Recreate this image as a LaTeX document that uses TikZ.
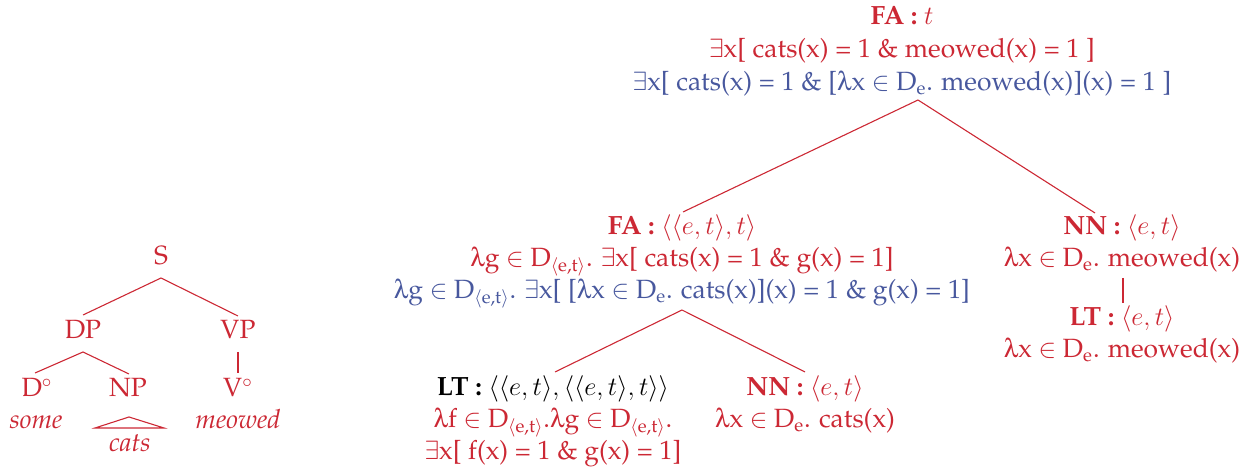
\RequirePackage{fix-cm}
\documentclass[tikz,border=0pt]{standalone}
\usepackage[T1]{fontenc}
\renewcommand{\rmdefault}{ppl}
\usepackage[Symbol]{upgreek}
\usetikzlibrary{calc}
\definecolor{tred}{RGB}{204,40,52}
\definecolor{tblue}{RGB}{72,88,158}
\newcommand{\lam}{\ensuremath{\uplambda}}
\newcommand{\Det}{D\textsubscript{$\langle$e,t$\rangle$}}
\newcommand{\De}{D\textsubscript{e}}
\newcommand{\blk}[1]{\begin{tabular}[t]{@{}c@{}}#1\end{tabular}}
\begin{document}
\begin{tikzpicture}[x=0.5pt,y=-0.5pt,
  every node/.style={inner sep=0pt, outer sep=0pt, anchor=base, text=tred,
    font=\fontsize{13.2}{16}\selectfont},
  ln/.style={draw=tred, line width=0.55pt}]
\useasboundingbox (0,0) rectangle (1250,469);
% left syntactic tree
\node (S) at (161,265) {S};
\node (DP) at (83,339) {DP};
\node (VP) at (238,339) {VP};
\node (Do) at (37,397) {D$^\circ$};
\node (NP) at (128,397) {NP};
\node (Vo) at (238,397) {V$^\circ$};
\node (some) at (36,429) {\textit{some}};
\node (cats) at (130,452) {\textit{cats}};
\node (meowed) at (238,429) {\textit{meowed}};
\draw[ln] ($(S.base)+(0,13)$) -- ($(DP.base)+(0,-24)$);
\draw[ln] ($(S.base)+(0,13)$) -- ($(VP.base)+(0,-23)$);
\draw[ln] ($(DP.base)+(0,13)$) -- ($(Do.base)+(-2,-24)$);
\draw[ln] ($(DP.base)+(0,13)$) -- ($(NP.base)+(1,-23)$);
\draw[ln] ($(VP.base)+(0,13)$) -- ($(Vo.base)+(0,-24)$);
\draw[ln] ($(NP.base)+(1,20)$) -- ($(NP.base)+(-33,31)$) -- ($(NP.base)+(36,31)$) -- cycle;
% semantic tree
\node (top) at (902,25) {\blk{\textbf{FA :} $t$\\[0.5pt]
  $\exists$x[ cats(x) = 1 \& meowed(x) = 1 ]\\[0.5pt]
  \color{tblue}$\exists$x[ cats(x) = 1 \& [\lam x $\in$ \De. meowed(x)](x) = 1 ]}};
\node (fa) at (682,235) {\blk{\textbf{FA :} $\langle\langle e,t\rangle,t\rangle$\\
  \lam g $\in$ \Det. $\exists$x[ cats(x) = 1 \& g(x) = 1]\\
  \color{tblue}\lam g $\in$ \Det. $\exists$x[ [\lam x $\in$ \De. cats(x)](x) = 1 \& g(x) = 1]}};
\node (nnr) at (1122,235) {\blk{\textbf{NN :} $\langle e,t\rangle$\\
  \lam x $\in$ \De. meowed(x)}};
\node (ltr) at (1122,326) {\blk{\textbf{LT :} $\langle e,t\rangle$\\
  \lam x $\in$ \De. meowed(x)}};
\node (lt) at (553,396) {\blk{\color{black}\textbf{LT :} $\langle\langle e,t\rangle,\langle\langle e,t\rangle,t\rangle\rangle$\\
  \lam f $\in$ \Det.\lam g $\in$ \Det.\\
  $\exists$x[ f(x) = 1 \& g(x) = 1]}};
\node (nnb) at (805,396) {\blk{\textbf{NN :} $\langle e,t\rangle$\\
  \lam x $\in$ \De. cats(x)}};
\draw[ln] ($(top.base)+(16,75)$) -- ($(fa.base)+(1,-23)$);
\draw[ln] ($(top.base)+(16,75)$) -- ($(nnr.base)+(-27,-22)$);
\draw[ln] ($(fa.base)+(0,75)$) -- ($(lt.base)+(2,-24)$);
\draw[ln] ($(fa.base)+(0,75)$) -- ($(nnb.base)+(0,-24)$);
\draw[ln] ($(nnr.base)+(1,43)$) -- ($(ltr.base)+(1,-23)$);
\end{tikzpicture}
\end{document}
